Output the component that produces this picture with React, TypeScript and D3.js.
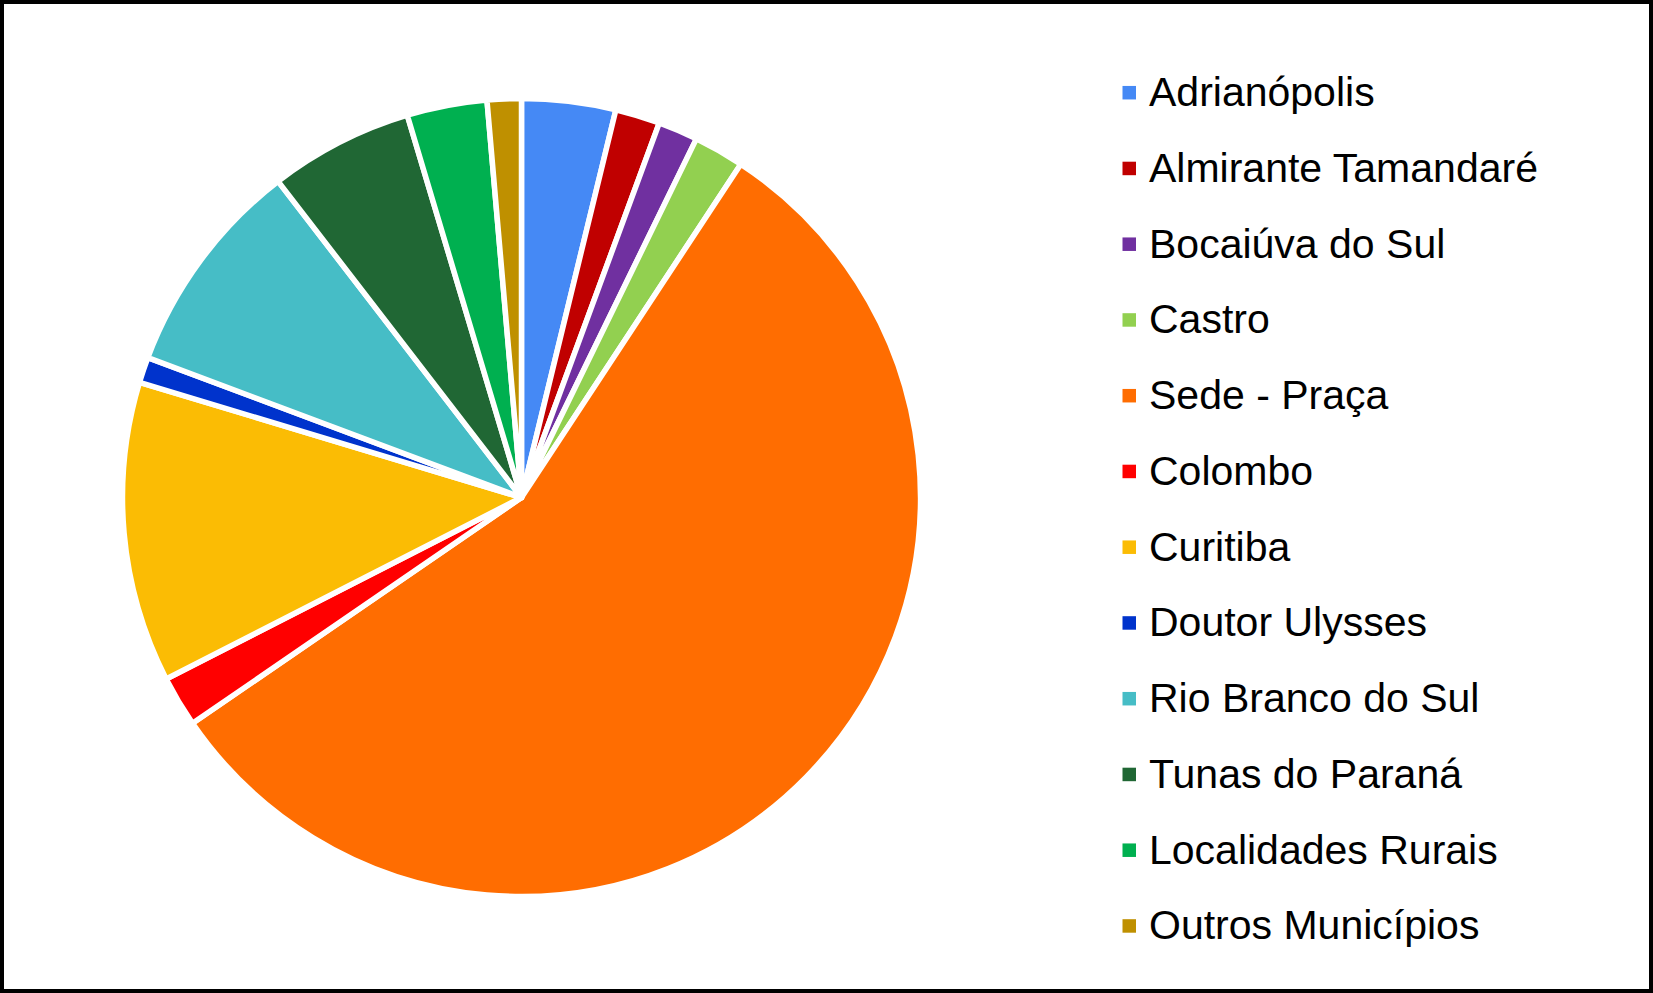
import * as d3 from 'd3';
import React, { useEffect, useRef } from 'react';

// share of each locality (%)
const categories = [
  "Adrianópolis",
  "Almirante Tamandaré",
  "Bocaiúva do Sul",
  "Castro",
  "Sede - Praça",
  "Colombo",
  "Curitiba",
  "Doutor Ulysses",
  "Rio Branco do Sul",
  "Tunas do Paraná",
  "Localidades Rurais",
  "Outros Municípios"
];

const shares = [3.8, 1.81, 1.61, 2.04, 56.16, 2.06, 12.17, 1.04, 8.86, 5.82, 3.24, 1.38];

const colors = [
  "#4589F5", "#C00000", "#7030A0", "#92D050", "#FF6D01", "#FF0000",
  "#FBBC04", "#0033CC", "#46BDC6", "#206734", "#00B050", "#BF9000"
];

const WIDTH = 1653;
const HEIGHT = 993;

interface Slice {
  name: string;
  value: number;
  color: string;
}

const App: React.FC = () => {
  const svgRef = useRef<SVGSVGElement>(null);

  useEffect(() => {
    document.body.style.margin = "0";
    if (!svgRef.current) { return; }

    const svg = d3.select(svgRef.current);
    svg.selectAll("*").remove();

    const data: Slice[] = categories.map((name, i) => ({
      name,
      value: shares[i],
      color: colors[i]
    }));

    // frame
    svg.append("rect")
      .attr("x", 2)
      .attr("y", 2)
      .attr("width", WIDTH - 4)
      .attr("height", HEIGHT - 4)
      .attr("fill", "white")
      .attr("stroke", "black")
      .attr("stroke-width", 4);

    // pie
    const cx = 521.5;
    const cy = 497.5;
    const radius = 399;

    const pie = d3.pie<Slice>()
      .value(d => d.value)
      .sort(null)
      .startAngle(0)
      .endAngle(2 * Math.PI);

    const arc = d3.arc<d3.PieArcDatum<Slice>>()
      .innerRadius(0)
      .outerRadius(radius);

    svg.append("g")
      .attr("transform", `translate(${cx},${cy})`)
      .selectAll("path")
      .data(pie(data))
      .enter().append("path")
      .attr("d", arc)
      .attr("fill", d => d.data.color)
      .attr("stroke", "white")
      .attr("stroke-width", 5.5)
      .attr("stroke-linejoin", "round");

    // legend
    const legendY = d3.scaleBand<string>()
      .domain(categories)
      .range([92.7 - 75.75 / 2, 92.7 + 11.5 * 75.75]);

    const legend = svg.append("g")
      .selectAll("g")
      .data(data)
      .enter().append("g")
      .attr("transform", d => `translate(0,${legendY(d.name)! + legendY.bandwidth() / 2})`);

    legend.append("rect")
      .attr("x", 1122.5)
      .attr("y", -6.75)
      .attr("width", 13.5)
      .attr("height", 13.5)
      .attr("fill", d => d.color);

    legend.append("text")
      .attr("x", 1149)
      .attr("y", 13.4)
      .attr("font-family", "'Liberation Sans', Arial, sans-serif")
      .attr("font-size", 41)
      .attr("fill", "black")
      .text(d => d.name);
  }, []);

  return (
    <svg
      ref={svgRef}
      width={WIDTH}
      height={HEIGHT}
      style={{ display: "block" }}
    />
  );
};

export default App;
